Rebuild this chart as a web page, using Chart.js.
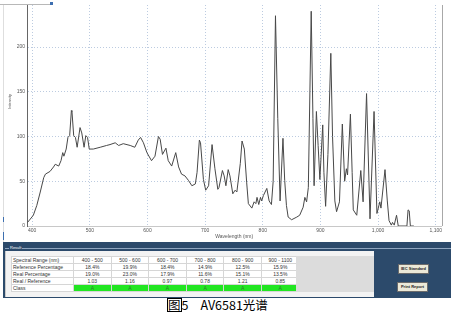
<!DOCTYPE html>
<html>
<head>
<meta charset="utf-8">
<script src="https://cdn.jsdelivr.net/npm/chart.js@4.4.0/dist/chart.umd.min.js"></script>
<style>
  body { margin: 0; width: 451px; height: 315px; background: #fff; position: relative; overflow: hidden; font-family: 'Liberation Sans', Arial, sans-serif; }
  #c { position: absolute; left: 0; top: 0; }
  .frame-top { position: absolute; left: 0; top: 4px; width: 50px; height: 1px; background: #b8b8b8; }
  .frame-mark { position: absolute; left: 50px; top: 2px; width: 3px; height: 3px; background: #3d6fb0; }
  .frame-left { position: absolute; left: 3px; top: 5px; width: 1px; height: 237px; background: #dedede; }
  .blue-tick { position: absolute; left: 3px; width: 1px; background: #3d6fb0; }
  #result { position: absolute; left: 3px; top: 242px; width: 448px; height: 56px; background: #2c4a6b; }
  #result .band-line { position: absolute; left: 2px; top: 6px; width: 446px; height: 1px; background: #8fa5bf; }
  #result .legend { position: absolute; left: 6px; top: 3px; font-size: 4px; color: #fff; background: #2c4a6b; padding: 0 1px; line-height: 6px; }
  #group { position: absolute; left: 2px; top: 9px; width: 368px; height: 46px; background: #f3f3f3; border-left: 1px solid #c9c9c9; }
  #tbl { position: absolute; left: 5px; top: 5px; border-collapse: collapse; background: #fff; }
  #tbl td { font-size: 5px; line-height: 6px; height: 6px; padding: 0 1px; color: #333; border: 1px solid #d6d6d6; text-align: center; width: 34.6px; white-space: nowrap; }
  #tbl td.lbl { text-align: left; width: 59px; }
  #tbl td.cls { background: #22e622; color: #2f7a2f; }
  #grey { position: absolute; left: 290px; top: 5px; width: 78px; height: 36px; background: #dcdcdc; }
  .btn { position: absolute; width: 29px; height: 8px; background: #ece9d8; border: 1px solid #6b6b6b; font-size: 4px; line-height: 8px; text-align: center; color: #222; font-weight: bold; white-space: nowrap; }
  #caption { position: absolute; left: 167px; top: 297px; font-family: 'Noto Sans CJK SC', sans-serif; font-size: 12.5px; line-height: 16px; color: #000; white-space: nowrap; }
  #caption .box { border: 1px solid #000; line-height: 12px; display: inline-block; }
  #caption .name { margin-left: 12px; }
</style>
</head>
<body>
<canvas id="c" width="451" height="240"></canvas>
<div class="frame-top"></div>
<div class="frame-mark"></div>
<div class="frame-left"></div>
<div class="blue-tick" style="top:217px;height:5px"></div>
<div class="blue-tick" style="top:232px;height:8px"></div>

<div id="result">
  <div class="band-line"></div>
  <div class="legend">Result</div>
  <div id="group">
    <table id="tbl"></table>
    <div id="grey"></div>
  </div>
  <div class="btn" style="left:395px;top:22px">IEC Standard</div>
  <div class="btn" style="left:394px;top:40px">Print Report</div>
</div>

<div id="caption"><span class="box">图</span>5<span class="name">AV6581光谱</span></div>

<script>
// Spektrum verisi (nm / intensity)
const wavelengths = [392, 402, 408, 414, 420, 423, 431, 437, 440, 446, 450, 453, 455, 459, 462, 465, 468, 469, 472, 475,
  478, 483, 486, 490, 493, 496, 499, 506, 518, 529, 535, 544, 550, 558, 570, 578, 584, 588, 593, 599,
  607, 613, 619, 622, 626, 632, 636, 642, 649, 654, 659, 665, 671, 677, 683, 686, 690, 692, 697, 701,
  706, 712, 717, 722, 724, 730, 733, 736, 740, 743, 748, 752, 755, 761, 764, 768, 772, 775, 781, 785,
  788, 790, 793, 796, 798, 801, 807, 811, 815, 818, 822, 826, 830, 835, 838, 841, 844, 850, 859, 864,
  870, 873, 876, 879, 884, 887, 889, 893, 896, 899, 904, 906, 909, 913, 918, 921, 925, 928, 933, 938,
  942, 945, 947, 952, 955, 957, 963, 970, 974, 980, 986, 993, 998, 1003, 1005, 1012, 1016, 1019, 1023, 1025,
  1027, 1028, 1032, 1035, 1050, 1052, 1054, 1056, 1062];
const intensity = [4, 12, 23, 38, 54, 58, 61, 66, 69, 67, 73, 82, 78, 86, 99, 101, 129, 128, 101, 99,
  88, 110, 104, 88, 101, 99, 86, 86, 88, 90, 91, 93, 90, 92, 90, 88, 96, 99, 93, 82,
  73, 78, 100, 97, 80, 87, 73, 67, 82, 66, 58, 56, 51, 45, 47, 60, 96, 93, 52, 40,
  45, 91, 64, 41, 43, 62, 56, 45, 63, 56, 36, 40, 38, 70, 95, 86, 49, 25, 20, 27,
  25, 32, 24, 32, 28, 34, 42, 28, 24, 50, 235, 120, 28, 98, 51, 23, 10, 7, 10, 12,
  21, 32, 27, 43, 240, 120, 45, 128, 90, 52, 113, 60, 22, 80, 193, 100, 28, 16, 27, 114,
  50, 64, 57, 125, 60, 18, 12, 62, 27, 148, 8, 128, 14, 27, 20, 63, 28, 6, 1, 4,
  2, 1, 12, 0, 0, 18, 17, 0, 0];

const xTicks = [400, 500, 600, 700, 800, 900, 1000, 1100];
const yTicks = [0, 50, 100, 150, 200];

// Sonuç tablosu
const ranges = ['400 - 500', '500 - 600', '600 - 700', '700 - 800', '800 - 900', '900 - 1100'];
const refPercent = ['18.4%', '19.9%', '18.4%', '14.9%', '12.5%', '15.9%'];
const realPercent = ['19.0%', '23.0%', '17.9%', '11.6%', '15.1%', '13.5%'];
const realRef = ['1.03', '1.16', '0.97', '0.78', '1.21', '0.85'];
const classes = ['A', 'A', 'A', 'A', 'A', 'A'];

function buildTable() {
    const rows = [
        ['Spectral Range (nm)', ranges, ''],
        ['Reference Percentage', refPercent, ''],
        ['Real Percentage', realPercent, ''],
        ['Real / Reference', realRef, ''],
        ['Class', classes, 'cls']
    ];
    const tbl = document.getElementById('tbl');
    rows.forEach(r => {
        const tr = document.createElement('tr');
        const th = document.createElement('td');
        th.className = 'lbl';
        th.textContent = r[0];
        tr.appendChild(th);
        r[1].forEach(v => {
            const td = document.createElement('td');
            if (r[2]) td.className = r[2];
            td.textContent = v;
            tr.appendChild(td);
        });
        tbl.appendChild(tr);
    });
}
buildTable();

// Eksen başlığı ve sağ kenar
const extras = {
    id: 'extras',
    afterDraw(chart) {
        const ctx = chart.ctx;
        const a = chart.chartArea;
        ctx.save();
        ctx.strokeStyle = '#a8a8a8';
        ctx.lineWidth = 1;
        ctx.beginPath();
        ctx.moveTo(Math.round(a.right) + 0.5, a.top);
        ctx.lineTo(Math.round(a.right) + 0.5, a.bottom);
        ctx.stroke();
        ctx.translate(9.5, 101.5);
        ctx.rotate(-Math.PI / 2);
        ctx.font = '4px "Liberation Sans"';
        ctx.fillStyle = '#555';
        ctx.textAlign = 'center';
        ctx.textBaseline = 'middle';
        ctx.fillText('Intensity', 0, 0);
        ctx.restore();
    }
};

const points = wavelengths.map((w, i) => ({ x: w, y: intensity[i] }));
const gridColor = '#bccbe0';

new Chart(document.getElementById('c').getContext('2d'), {
    type: 'scatter',
    data: {
        datasets: [{
            data: points,
            showLine: true,
            borderColor: '#484848',
            borderWidth: 1,
            pointRadius: 0,
            tension: 0
        }]
    },
    options: {
        responsive: false,
        animation: false,
        devicePixelRatio: 1,
        layout: { padding: { left: 0, top: 3.5, right: 9.5, bottom: 0 } },
        plugins: { legend: { display: false }, tooltip: { enabled: false } },
        scales: {
            x: {
                type: 'linear',
                min: 391,
                max: 1110,
                afterBuildTicks: s => { s.ticks = xTicks.map(v => ({ value: v })); },
                afterFit: s => { s.height = 14; },
                grid: { color: gridColor, lineWidth: 1, drawTicks: false },
                border: { display: true, color: '#c8c8c8', dash: [1, 2] },
                ticks: { font: { size: 5, family: 'Liberation Sans' }, color: '#555', padding: 2, maxRotation: 0 },
                title: { display: true, text: 'Wavelength (nm)', font: { size: 5, family: 'Liberation Sans' }, color: '#555', padding: 0 }
            },
            y: {
                min: 0,
                max: 247,
                afterBuildTicks: s => { s.ticks = yTicks.map(v => ({ value: v })); },
                afterFit: s => { s.width = 27; },
                grid: { color: ctx => ctx.tick && ctx.tick.value === 0 ? 'rgba(0,0,0,0)' : gridColor, lineWidth: 1, drawTicks: false },
                border: { display: true, color: '#666', dash: [1, 2] },
                ticks: { font: { size: 5, family: 'Liberation Sans' }, color: '#555', padding: 2 }
            }
        }
    },
    plugins: [extras]
});
</script>
</body>
</html>
